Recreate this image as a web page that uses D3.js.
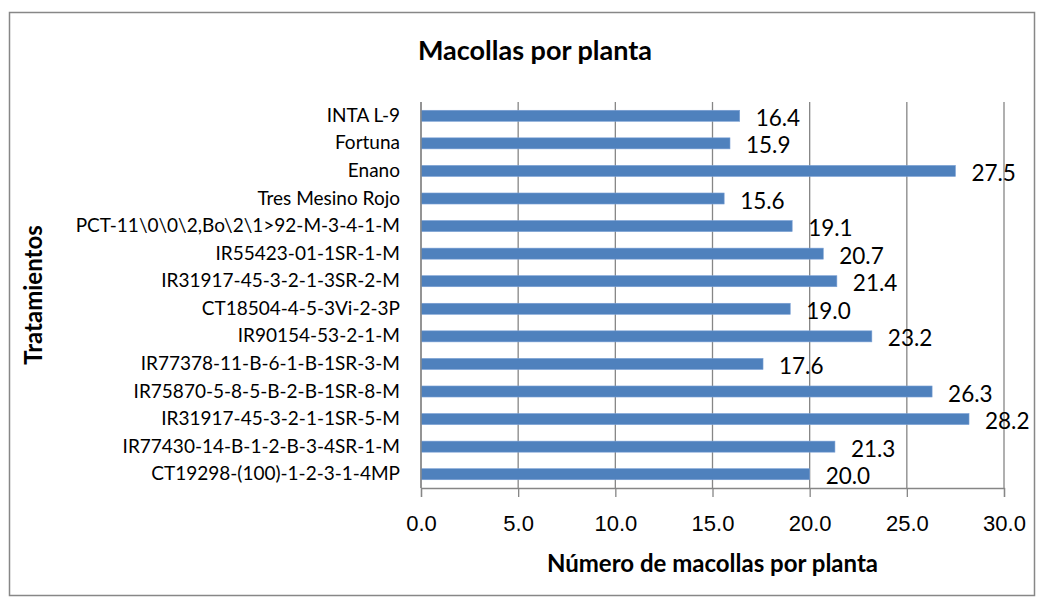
<!DOCTYPE html>
<html>
<head>
<meta charset="utf-8">
<script src="https://cdn.jsdelivr.net/npm/d3@7"></script>
<style>
  body { margin: 0; background: #fff; }
  svg { font-family: Lato, 'Open Sans', sans-serif; }
  .grid line { stroke: #868686; stroke-width: 1.3; }
  .x.axis path, .x.axis line { stroke: #868686; stroke-width: 1.3; }
  .x.axis text { font-size: 22px; fill: #000; }
  .cat-label { font-size: 19px; fill: #000; }
  .value-label { font-size: 22.5px; fill: #000; }
  .axis-title { font-size: 24px; font-weight: bold; }
</style>
</head>
<body>
<svg width="1044" height="605"></svg>
<script>
// data, top to bottom as in the chart
var treatments = [
    'INTA L-9',
    'Fortuna',
    'Enano',
    'Tres Mesino Rojo',
    'PCT-11\\0\\0\\2,Bo\\2\\1>92-M-3-4-1-M',
    'IR55423-01-1SR-1-M',
    'IR31917-45-3-2-1-3SR-2-M',
    'CT18504-4-5-3Vi-2-3P',
    'IR90154-53-2-1-M',
    'IR77378-11-B-6-1-B-1SR-3-M',
    'IR75870-5-8-5-B-2-B-1SR-8-M',
    'IR31917-45-3-2-1-1SR-5-M',
    'IR77430-14-B-1-2-B-3-4SR-1-M',
    'CT19298-(100)-1-2-3-1-4MP'
];
var tillers = [16.4, 15.9, 27.5, 15.6, 19.1, 20.7, 21.4, 19.0, 23.2, 17.6, 26.3, 28.2, 21.3, 20.0];
var xTicks = [0, 5, 10, 15, 20, 25, 30];

var svg = d3.select('svg');
var plot = {l: 421, r: 1004, t: 102, b: 488};

// chart border
svg.append('rect')
    .attr('x', 9.5).attr('y', 12.5)
    .attr('width', 1025).attr('height', 583)
    .attr('fill', '#fff')
    .attr('stroke', '#878787')
    .attr('stroke-width', 1.5);

var xScale = d3.scaleLinear().domain([0, 30]).range([plot.l, plot.r]);
var yScale = d3.scaleBand().domain(treatments).range([plot.t, plot.b]);
var barH = yScale.bandwidth() * 0.4;

// vertical gridlines
svg.append('g').attr('class', 'grid')
    .selectAll('line')
    .data(xTicks)
    .enter()
    .append('line')
    .attr('x1', function(d){ return xScale(d); })
    .attr('x2', function(d){ return xScale(d); })
    .attr('y1', plot.t)
    .attr('y2', plot.b);

var xAxis = d3.axisBottom(xScale)
    .tickValues(xTicks)
    .tickFormat(d3.format('.1f'))
    .tickSizeOuter(0)
    .tickSize(9)
    .tickPadding(18);

svg.append('g')
    .attr('class', 'x axis')
    .attr('transform', 'translate(0,' + plot.b + ')')
    .call(xAxis);

// bars
svg.append('g')
    .selectAll('rect')
    .data(tillers)
    .enter()
    .append('rect')
    .attr('x', plot.l)
    .attr('y', function(d, i){ return yScale(treatments[i]) + (yScale.bandwidth() - barH) / 2; })
    .attr('width', function(d){ return xScale(d) - plot.l; })
    .attr('height', barH)
    .attr('fill', '#4f81bd')
    .attr('stroke', '#7aa0d4')
    .attr('stroke-width', 0.6);

// left axis line drawn over bars
svg.append('line')
    .attr('x1', plot.l).attr('x2', plot.l)
    .attr('y1', plot.t).attr('y2', plot.b)
    .attr('stroke', '#868686')
    .attr('stroke-width', 1.3);

// value labels
svg.append('g')
    .selectAll('text')
    .data(tillers)
    .enter()
    .append('text')
    .attr('class', 'value-label')
    .attr('x', function(d){ return xScale(d) + 16; })
    .attr('y', function(d, i){ return yScale(treatments[i]) + yScale.bandwidth() / 2 + 10; })
    .text(function(d){ return d.toFixed(1); });

// category labels
svg.append('g')
    .selectAll('text')
    .data(treatments)
    .enter()
    .append('text')
    .attr('class', 'cat-label')
    .attr('text-anchor', 'end')
    .attr('x', plot.l - 21)
    .attr('y', function(d){ return yScale(d) + yScale.bandwidth() / 2 + 6; })
    .text(function(d){ return d; });

// titles
svg.append('text')
    .attr('x', 535).attr('y', 60)
    .attr('text-anchor', 'middle')
    .attr('font-size', 27).attr('font-weight', 'bold')
    .text('Macollas por planta');

svg.append('text')
    .attr('class', 'axis-title')
    .attr('x', (plot.l + plot.r) / 2).attr('y', 572)
    .attr('text-anchor', 'middle')
    .text('Número de macollas por planta');

svg.append('text')
    .attr('class', 'axis-title')
    .attr('text-anchor', 'middle')
    .attr('transform', 'translate(' + [42, (plot.t + plot.b) / 2] + ')rotate(-90)')
    .text('Tratamientos');
</script>
</body>
</html>
